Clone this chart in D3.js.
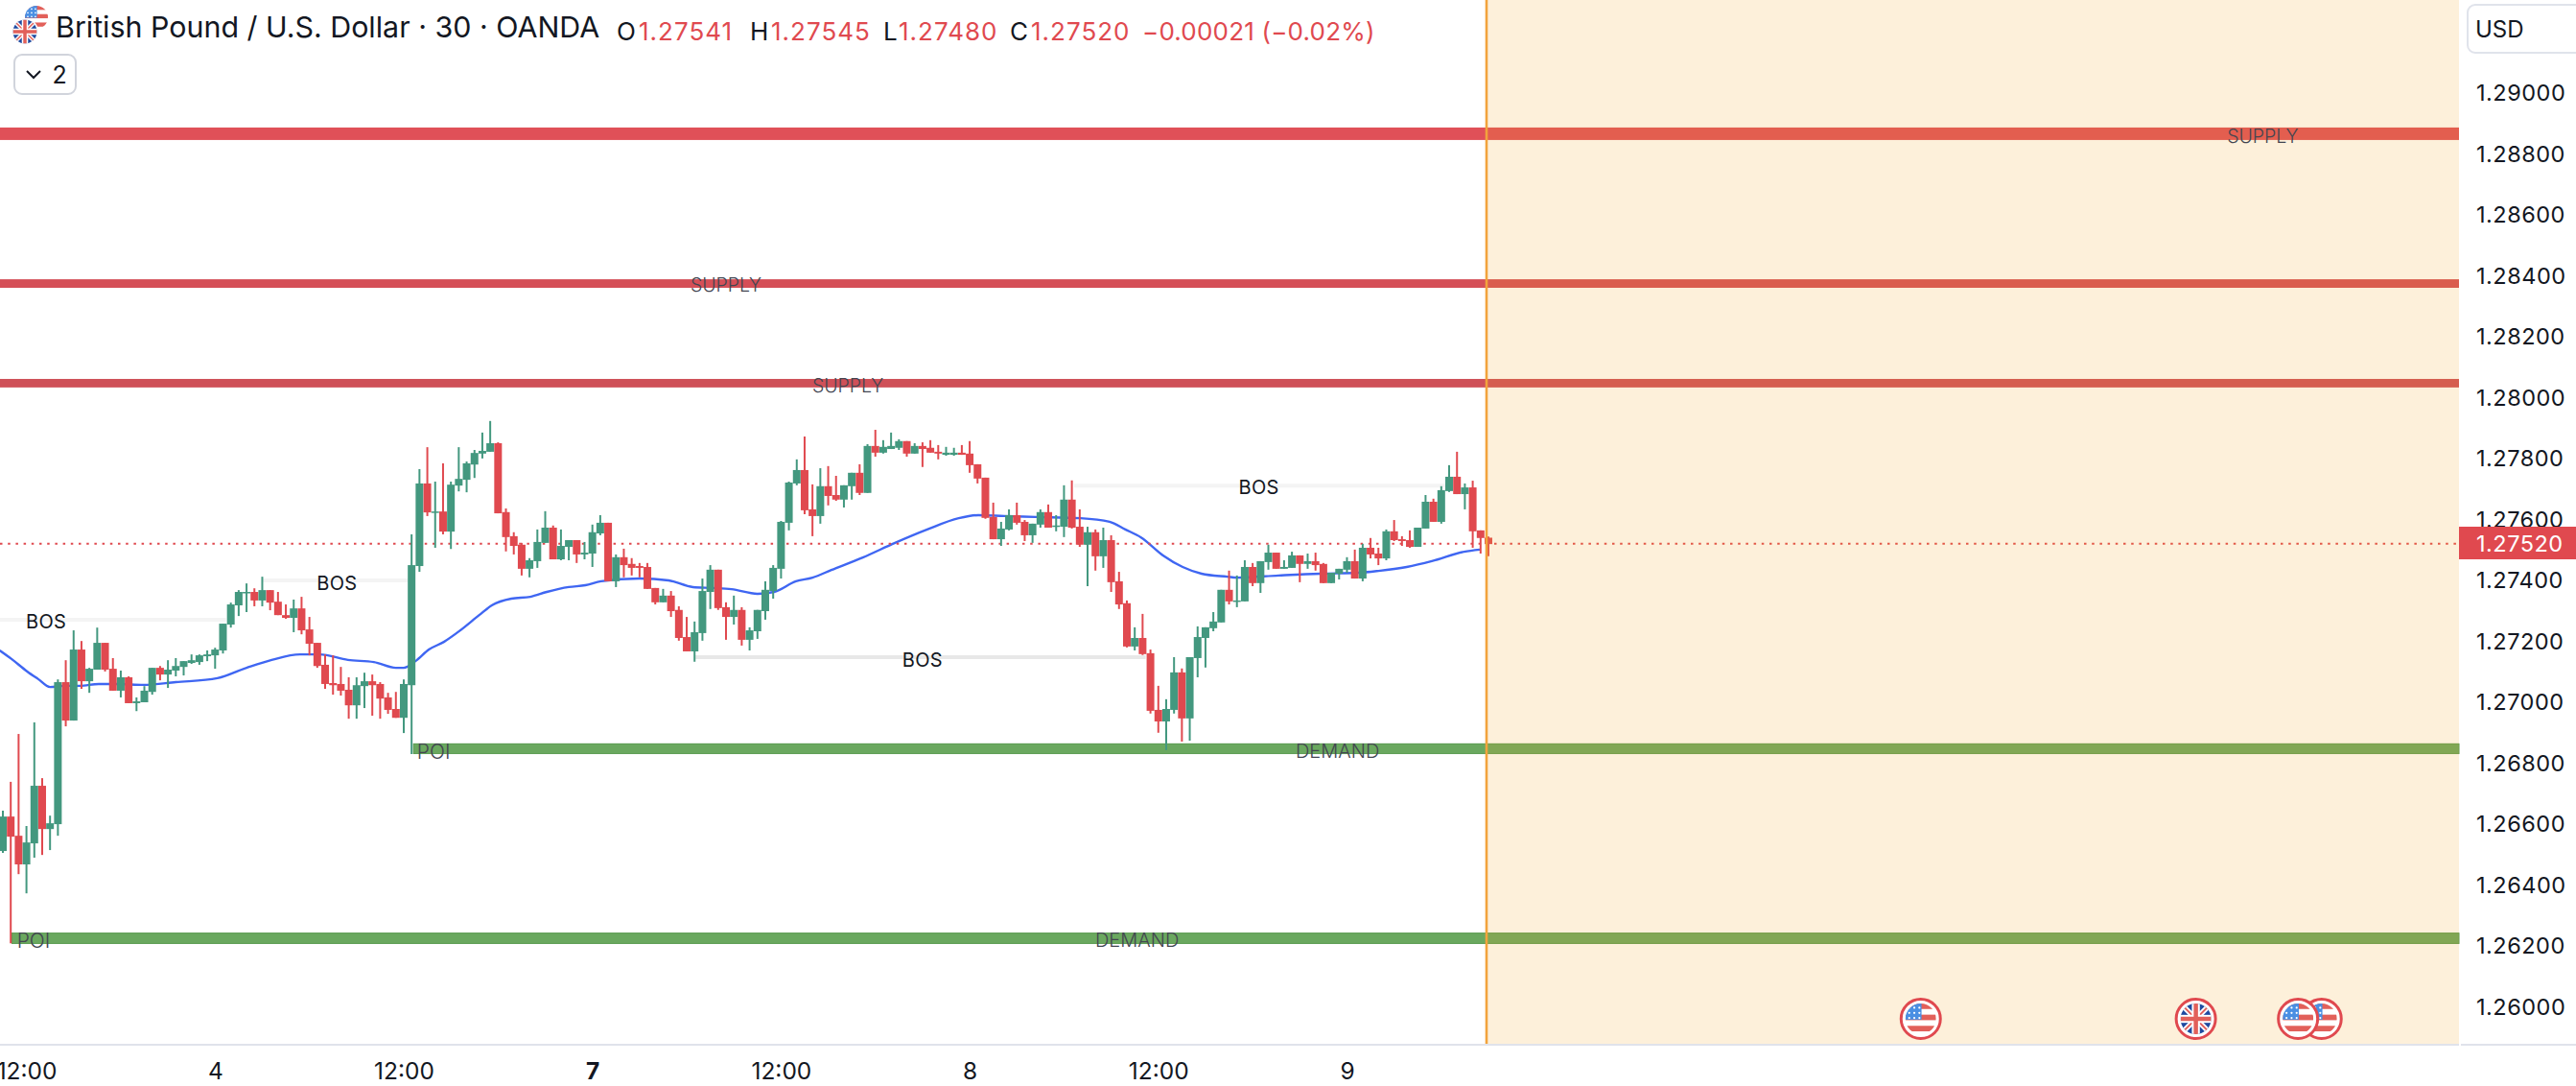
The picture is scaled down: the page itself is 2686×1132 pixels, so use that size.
<!DOCTYPE html>
<html><head><meta charset="utf-8">
<script src="https://cdn.jsdelivr.net/npm/d3@7/dist/d3.min.js"></script>
<style>html,body{margin:0;padding:0;background:#fff;overflow:hidden}svg{display:block}text{font-family:Inter,"Noto Sans",sans-serif}</style>
</head><body><svg id="c" width="2686" height="1132"></svg>
<script>
// prices in 1e-5 units
const opens=[126513,126626,126563,126469,126538,126727,126585,126601,127067,126941,
127174,127070,127108,127196,127111,127039,127083,126998,127001,127035,
127114,127092,127105,127117,127130,127133,127152,127155,127171,127256,
127319,127360,127363,127335,127369,127331,127287,127278,127309,127240,
127196,127124,127064,127061,127042,126991,127054,127070,127061,127017,
126979,126950,127057,127448,127719,127624,127627,127561,127712,127731,
127781,127817,127823,127851,127625,127546,127518,127439,127464,127524,
127574,127470,127511,127533,127486,127489,127555,127590,127398,127477,
127455,127448,127445,127376,127329,127351,127304,127215,127168,127228,
127363,127436,127313,127281,127304,127206,127234,127300,127366,127439,
127590,127719,127763,127634,127612,127710,127681,127666,127710,127754,
127688,127842,127820,127832,127836,127858,127817,127842,127836,127823,
127813,127813,127820,127817,127782,127738,127609,127536,127568,127615,
127593,127549,127584,127625,127577,127577,127666,127577,127518,127559,
127480,127533,127398,127326,127184,127212,127162,126976,126938,126976,
127099,126948,127146,127212,127244,127263,127370,127332,127332,127445,
127392,127461,127492,127439,127442,127483,127455,127464,127455,127392,
127423,127436,127464,127407,127508,127489,127473,127562,127536,127533,
127511,127571,127659,127593,127694,127741,127684,127706,127565,127541];
const closes=[126626,126560,126469,126541,126727,126585,126604,127067,126941,127174,
127070,127111,127196,127108,127039,127083,126998,127004,127039,127114,
127092,127108,127120,127136,127139,127155,127158,127174,127259,127322,
127363,127363,127335,127369,127328,127287,127278,127309,127237,127193,
127120,127061,127057,127039,126991,127057,127070,127057,127013,126976,
126950,127061,127451,127719,127624,127627,127561,127715,127734,127785,
127819,127826,127851,127621,127543,127514,127439,127467,127527,127574,
127470,127514,127533,127486,127492,127559,127590,127398,127477,127451,
127442,127442,127373,127329,127351,127300,127212,127168,127231,127366,
127436,127310,127281,127304,127206,127237,127304,127370,127442,127593,
127722,127763,127631,127612,127710,127678,127666,127713,127754,127688,
127842,127820,127839,127842,127858,127817,127842,127832,127820,127817,
127820,127820,127813,127779,127735,127606,127536,127571,127615,127590,
127549,127587,127625,127574,127581,127666,127574,127518,127559,127480,
127533,127395,127322,127184,127212,127159,126973,126938,126979,127099,
126948,127149,127215,127247,127266,127370,127332,127335,127445,127392,
127464,127492,127439,127445,127483,127455,127464,127451,127392,127426,
127439,127464,127407,127508,127486,127473,127562,127533,127530,127511,
127574,127659,127593,127697,127741,127684,127706,127562,127540,127520];
const highs=[126645,126740,126897,126595,126935,126752,126629,127076,127139,127237,
127202,127114,127246,127196,127146,127105,127086,127017,127054,127114,
127120,127139,127146,127136,127158,127158,127171,127180,127259,127328,
127369,127391,127375,127413,127369,127363,127322,127338,127347,127281,
127196,127158,127155,127117,127083,127083,127098,127092,127067,127032,
127035,127076,127552,127766,127838,127725,127785,127725,127838,127791,
127829,127886,127924,127854,127637,127559,127524,127474,127568,127628,
127581,127568,127533,127533,127527,127584,127615,127590,127486,127505,
127474,127458,127458,127376,127373,127366,127316,127281,127266,127407,
127451,127436,127329,127351,127313,127247,127304,127398,127451,127596,
127725,127798,127873,127716,127769,127776,127744,127713,127754,127782,
127848,127895,127861,127886,127864,127858,127851,127854,127861,127845,
127839,127836,127845,127858,127782,127738,127656,127593,127634,127656,
127599,127587,127634,127650,127615,127713,127729,127634,127577,127568,
127574,127549,127429,127335,127247,127291,127174,127055,127011,127149,
127112,127149,127250,127247,127297,127370,127433,127417,127467,127458,
127464,127518,127492,127467,127495,127483,127489,127492,127458,127426,
127439,127477,127502,127521,127540,127508,127568,127599,127546,127565,
127574,127681,127669,127710,127779,127823,127719,127728,127565,127545];
const lows=[126507,126210,126437,126374,126491,126500,126516,126563,126922,126941,
127045,127032,127108,127102,127039,127017,126998,126972,127001,127026,
127073,127048,127086,127089,127127,127124,127136,127111,127161,127246,
127284,127297,127316,127316,127303,127287,127275,127231,127224,127155,
127114,127045,127026,127023,126947,126947,126982,126957,126947,126963,
126950,126900,126831,127429,127612,127508,127552,127504,127693,127690,
127737,127801,127823,127621,127496,127486,127417,127411,127442,127524,
127470,127467,127467,127458,127470,127445,127549,127398,127379,127411,
127417,127411,127373,127322,127329,127281,127203,127168,127134,127203,
127307,127304,127206,127256,127187,127171,127209,127272,127341,127407,
127565,127713,127618,127546,127587,127647,127662,127640,127666,127681,
127688,127807,127817,127832,127829,127807,127817,127773,127820,127798,
127810,127810,127813,127754,127719,127603,127536,127514,127565,127584,
127530,127524,127574,127574,127562,127543,127571,127511,127382,127433,
127442,127363,127307,127181,127171,127156,126964,126901,126844,126964,
126872,126875,127083,127115,127234,127263,127322,127313,127332,127382,
127360,127436,127439,127439,127442,127395,127439,127433,127392,127392,
127404,127426,127407,127398,127473,127451,127467,127530,127514,127508,
127511,127571,127593,127587,127691,127684,127634,127508,127489,127480];

const maIndex=[-0.4,1.1,3.1,4.5,6,7.8,9.8,12.2,14.6,17.9,22,27.3,31,34.2,37.8,40.3,43.9,47.2,50,51,52.5,54.2,56.1,58.2,60.6,62.2,64.7,67.1,69.2,72,74.1,76.1,81,84.7,87.8,90.3,92.7,96,98.1,100.9,103,105.4,109.4,113.5,117.6,121.6,124.1,127.4,131.4,137.1,140.8,142.8,144.8,147.6,150.1,152.5,155.8,157,162.3,167.6,172.5,175,178.6,181.8,185.9,187.9];
const maPrice=[127171,127143,127102,127077,127051,127055,127055,127061,127061,127058,127067,127080,127114,127140,127158,127158,127140,127133,127114,127114,127136,127174,127199,127237,127287,127319,127341,127347,127363,127379,127385,127398,127407,127401,127379,127376,127372,127357,127363,127398,127410,127435,127476,127524,127568,127605,127615,127612,127609,127605,127593,127568,127542,127483,127445,127423,127413,127410,127417,127423,127426,127432,127445,127464,127495,127502];

const zoneTop=[128887,128389,128062,126866,126245];
const zoneBottom=[128846,128361,128034,126831,126208];
const zoneStart=[-0.4,-0.4,-0.4,52.2,1.1];
const zoneColor=["#e05058","#d54f57","#cf5058","#6aa85f","#6aa85f"];
const bosPrice=[127272,127401,127149,127712];
const bosStart=[-0.4,33,88.1,136.3];
const bosEnd=[28.4,51.5,145.4,183.5];
const bosColor=["#f4f4f4","#f4f4f4","#e8e8e8","#f4f4f4"];
const bosLabelIndex=[5.5,42.5,117,159.8];
const bosLabelPrice=[127265,127391,127140,127706];
const zoneLabels=["SUPPLY","SUPPLY","SUPPLY","DEMAND","DEMAND","POI","POI"];
const zoneLabelIndex=[287.5,92,107.5,169.8,144.3,54.8,3.9];
const zoneLabelPrice=[128858,128370,128040,126840,126220,126840,126220];
const zoneLabelFont={SUPPLY:19.5,DEMAND:20,POI:21};
const priceTicks=[1.26,1.262,1.264,1.266,1.268,1.27,1.272,1.274,1.276,1.278,1.28,1.282,1.284,1.286,1.288,1.29];
const timeTickIndex=[3,27,51,75,99,123,147,171];
const timeTickLabels=["12:00","4","12:00","7","12:00","8","12:00","9"];
const eventIndex=[244,279,295,292];
const eventKind=["us","uk","us","us"];
const lastPrice=1.2752;
const legendLabels=["O","H","L","C"];
const legendValues=["1.27541","1.27545","1.27480","1.27520"];

const W=2686,H=1132,plotR=2564,plotB=1088,sessionX=1550;
const x=d3.scaleLinear().domain([0,189]).range([3,1552]);
const y=d3.scaleLinear().domain([1.26,1.29]).range([1050,97]);
const p=v=>v/1e5;
const svg=d3.select("#c");
const green="#43987f",red="#e0494f",ink="#131722",grey="#434651";

const plot=svg.append("g");
// zones
plot.selectAll("rect.z").data(zoneTop).join("rect").attr("class","z")
 .attr("x",(d,i)=>x(zoneStart[i])).attr("width",(d,i)=>plotR-x(zoneStart[i]))
 .attr("y",d=>y(p(d))).attr("height",(d,i)=>y(p(zoneBottom[i]))-y(p(d)))
 .attr("fill",(d,i)=>zoneColor[i]);
// darker rims on green zones
plot.selectAll("rect.zr").data(zoneTop.slice(3)).join("rect").attr("class","zr")
 .attr("x",(d,i)=>x(zoneStart[i+3])+0.5).attr("width",(d,i)=>plotR-x(zoneStart[i+3])-0.5)
 .attr("y",d=>y(p(d))+0.5).attr("height",(d,i)=>y(p(zoneBottom[i+3]))-y(p(d))-1)
 .attr("fill","none").attr("stroke","#5f9e56").attr("stroke-width",1);
// BOS lines
plot.selectAll("line.b").data(bosPrice).join("line").attr("class","b")
 .attr("x1",(d,i)=>x(bosStart[i])).attr("x2",(d,i)=>x(bosEnd[i]))
 .attr("y1",d=>y(p(d))).attr("y2",d=>y(p(d)))
 .attr("stroke",(d,i)=>bosColor[i]).attr("stroke-width",4);
// MA
plot.append("path").attr("fill","none").attr("stroke","#3f66f2").attr("stroke-width",2.4)
 .attr("d",d3.line().x((d,i)=>x(maIndex[i])).y(d=>y(p(d))).curve(d3.curveMonotoneX)(maPrice));
// price line
plot.append("line").attr("x1",0).attr("x2",plotR).attr("y1",y(lastPrice)-0.5).attr("y2",y(lastPrice)-0.5)
 .attr("stroke",red).attr("stroke-width",2).attr("stroke-dasharray","2.5 5.7");
// candles
const idx=d3.range(opens.length);
plot.selectAll("line.w").data(idx).join("line").attr("class","w")
 .attr("x1",i=>x(i)).attr("x2",i=>x(i)).attr("y1",i=>y(p(highs[i]))).attr("y2",i=>y(p(lows[i])))
 .attr("stroke",i=>closes[i]>=opens[i]?green:red).attr("stroke-width",2);
plot.selectAll("rect.c").data(idx).join("rect").attr("class","c")
 .attr("x",i=>x(i)-4).attr("width",8)
 .attr("y",i=>y(p(Math.max(opens[i],closes[i]))))
 .attr("height",i=>Math.max(1.5,Math.abs(y(p(opens[i]))-y(p(closes[i])))))
 .attr("fill",i=>closes[i]>=opens[i]?green:red);
// session overlay
plot.append("rect").attr("x",sessionX).attr("y",0).attr("width",plotR-sessionX).attr("height",plotB)
 .attr("fill","#f5a623").attr("fill-opacity",0.17);
plot.append("line").attr("x1",sessionX).attr("x2",sessionX).attr("y1",0).attr("y2",plotB)
 .attr("stroke","#f2a33c").attr("stroke-width",2.6);
// labels
plot.selectAll("text.bos").data(bosLabelIndex).join("text").attr("class","bos")
 .attr("x",d=>x(d)).attr("y",(d,i)=>y(p(bosLabelPrice[i]))).attr("text-anchor","middle")
 .attr("dominant-baseline","central").attr("font-size",20).attr("letter-spacing",0.3).attr("fill",ink).text("BOS");
plot.selectAll("text.zl").data(zoneLabels).join("text").attr("class","zl")
 .attr("x",(d,i)=>x(zoneLabelIndex[i])).attr("y",(d,i)=>y(p(zoneLabelPrice[i]))).attr("text-anchor","middle")
 .attr("dominant-baseline","central").attr("font-size",d=>zoneLabelFont[d]).attr("font-weight",300).attr("fill",grey).text(d=>d);

// axes
const axisY=d3.axisRight(y).tickValues(priceTicks).tickSize(0).tickPadding(0).tickFormat(d3.format(".5f"));
const gy=svg.append("g").attr("transform","translate(2582,0)").call(axisY);
gy.select(".domain").remove();
gy.selectAll("text").attr("font-size",23.5).attr("letter-spacing",0.5).attr("fill",ink).attr("font-family","Inter");
const axisX=d3.axisBottom(x).tickValues(timeTickIndex).tickSize(0).tickPadding(0).tickFormat((d,i)=>timeTickLabels[i]);
const gx=svg.append("g").attr("transform","translate(0,1108)").call(axisX);
gx.select(".domain").remove();
gx.selectAll("text").attr("font-size",24.5).attr("fill",ink).attr("font-family","Inter")
 .attr("font-weight",(d,i)=>timeTickLabels[i]==="7"?700:400);
svg.append("line").attr("x1",0).attr("x2",plotR).attr("y1",plotB+1).attr("y2",plotB+1).attr("stroke","#e0e3eb").attr("stroke-width",2);
svg.append("line").attr("x1",plotR+2).attr("x2",W).attr("y1",plotB+1).attr("y2",plotB+1).attr("stroke","#e0e3eb").attr("stroke-width",2);
// last price tag
svg.append("rect").attr("x",plotR).attr("y",549).attr("width",W-plotR).attr("height",34).attr("fill",red);
svg.append("text").attr("x",2582).attr("y",566).attr("dominant-baseline","central").attr("font-size",23.5).attr("letter-spacing",0.5).attr("fill","#fff").text(d3.format(".5f")(lastPrice));
// USD
svg.append("rect").attr("x",2573).attr("y",5).attr("width",130).attr("height",50).attr("rx",8).attr("fill","#fff").attr("stroke","#e0e3eb").attr("stroke-width",2);
svg.append("text").attr("x",2581).attr("y",30).attr("dominant-baseline","central").attr("font-size",24).attr("fill",ink).text("USD");

// flags
const defs=svg.append("defs");
let fid=0;
function flag(g,kind,r){
 const id="f"+(fid++);
 defs.append("clipPath").attr("id",id).append("circle").attr("r",r);
 const f=g.append("g").attr("clip-path",`url(#${id})`);
 if(kind==="us"){
  f.append("rect").attr("x",-r).attr("y",-r).attr("width",2*r).attr("height",2*r).attr("fill","#fff");
  d3.range(3).forEach(k=>f.append("rect").attr("x",-r).attr("y",-r+(2*r)*(k*2)/5.5).attr("width",2*r).attr("height",r*0.36).attr("fill","#e2605a"));
  f.append("rect").attr("x",-r).attr("y",-r).attr("width",r*1.05).attr("height",r*1.05).attr("fill","#4a8fe3");
  d3.range(3).forEach(a=>d3.range(3).forEach(b=>f.append("circle").attr("cx",-r*0.75+a*r*0.33).attr("cy",-r*0.72+b*r*0.33).attr("r",r*0.07).attr("fill","#fff")));
 } else {
  f.append("rect").attr("x",-r).attr("y",-r).attr("width",2*r).attr("height",2*r).attr("fill","#1f4aa0");
  [[-r,-r,r,r],[-r,r,r,-r]].forEach(a=>{
   f.append("line").attr("x1",a[0]).attr("y1",a[1]).attr("x2",a[2]).attr("y2",a[3]).attr("stroke","#fff").attr("stroke-width",r*0.34);
   f.append("line").attr("x1",a[0]).attr("y1",a[1]).attr("x2",a[2]).attr("y2",a[3]).attr("stroke","#e2605a").attr("stroke-width",r*0.12);
  });
  f.append("rect").attr("x",-r).attr("y",-r*0.26).attr("width",2*r).attr("height",r*0.52).attr("fill","#fff");
  f.append("rect").attr("x",-r*0.26).attr("y",-r).attr("width",r*0.52).attr("height",2*r).attr("fill","#fff");
  f.append("rect").attr("x",-r).attr("y",-r*0.14).attr("width",2*r).attr("height",r*0.28).attr("fill","#e2605a");
  f.append("rect").attr("x",-r*0.14).attr("y",-r).attr("width",r*0.28).attr("height",2*r).attr("fill","#e2605a");
 }
}
eventIndex.forEach((d,i)=>{
 const g=svg.append("g").attr("transform",`translate(${x(d)},1062)`);
 g.append("circle").attr("r",20.5).attr("fill","#fff").attr("stroke",red).attr("stroke-width",3);
 flag(g,eventKind[i],16);
});
// header icons
const gus=svg.append("g").attr("transform","translate(38,18)");flag(gus,"us",12);
const guk=svg.append("g").attr("transform","translate(26,33)");
guk.append("circle").attr("r",14).attr("fill","#fff");flag(guk,"uk",12.5);

// header text
svg.append("text").attr("x",58).attr("y",28).attr("dominant-baseline","central").attr("font-size",30.4).attr("fill",ink).text("British Pound / U.S. Dollar · 30 · OANDA");
const lx=[643,782,921,1053],vx=[666,804,937,1075];
legendLabels.forEach((l,i)=>{
 svg.append("text").attr("x",lx[i]).attr("y",32).attr("dominant-baseline","central").attr("font-size",26).attr("fill",ink).text(l);
 svg.append("text").attr("x",vx[i]).attr("y",32).attr("dominant-baseline","central").attr("font-size",26).attr("letter-spacing",1).attr("fill",red).text(legendValues[i]);
});
svg.append("text").attr("x",1191).attr("y",32).attr("dominant-baseline","central").attr("font-size",26).attr("letter-spacing",0.2).attr("fill",red).text("−0.00021 (−0.02%)");
// collapse button
svg.append("rect").attr("x",15).attr("y",57).attr("width",64).attr("height",41).attr("rx",8).attr("fill","#fff").attr("stroke","#d1d4dc").attr("stroke-width",2);
svg.append("path").attr("d","M28 74l7 7l7-7").attr("fill","none").attr("stroke",ink).attr("stroke-width",2);
svg.append("text").attr("x",62).attr("y",78).attr("text-anchor","middle").attr("dominant-baseline","central").attr("font-size",25).attr("fill",ink).text("2");
</script></body></html>
